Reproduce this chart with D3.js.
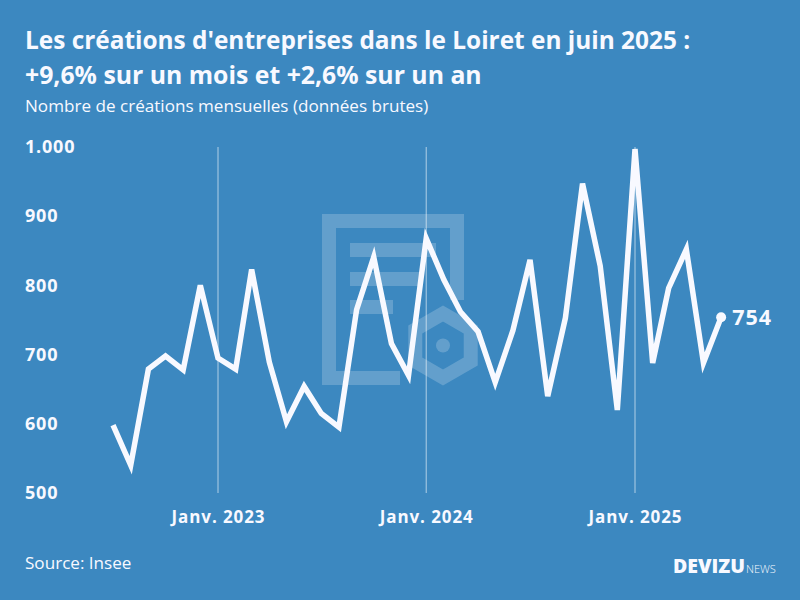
<!DOCTYPE html>
<html>
<head>
<meta charset="utf-8">
<script src="https://cdn.jsdelivr.net/npm/d3@7"></script>
<style>
  html, body { margin: 0; padding: 0; background: #3c88c0; }
  svg { display: block; }
  text { font-family: "Open Sans", sans-serif; fill: #f8f9ff; }
</style>
</head>
<body>
<div id="chart"></div>
<script>
// ----------- DATA -----------
const startMonth = "2022-07";
const values = [
  598, 540, 679, 698, 678, 800,
  695, 679, 823, 689, 603, 654, 615, 595, 765, 841, 716, 670,
  868, 808, 762, 733, 660, 735, 837, 640, 753, 947, 828, 620,
  997, 688, 796, 852, 688, 754
];
const yTicks = [500, 600, 700, 800, 900, 1000];
const yLabels = ["500", "600", "700", "800", "900", "1.000"];
const xTicks = ["2023-01", "2024-01", "2025-01"];
const xLabels = ["Janv. 2023", "Janv. 2024", "Janv. 2025"];
const titleLines = [
  "Les créations d'entreprises dans le Loiret en juin 2025 :",
  "+9,6% sur un mois et +2,6% sur un an"
];
const titleSizes = [24.4, 24.8];
const subtitle = "Nombre de créations mensuelles (données brutes)";
const source = "Source: Insee";

const width = 800;
const height = 600;
const parseMonth = d3.timeParse("%Y-%m");
const dates = values.map((d, i) => d3.timeMonth.offset(parseMonth(startMonth), i));

const svg = d3.select("#chart").append("svg")
  .attr("width", width)
  .attr("height", height);

svg.append("rect").attr("width", width).attr("height", height).attr("fill", "#3c88c0");

// ------- WATERMARK ---------
const mark = svg.append("g").attr("fill", "none").attr("stroke", "#fff").attr("stroke-opacity", 0.2);
mark.append("path").attr("stroke-width", 14).attr("d", "M457,300V221H329V378H400");
mark.append("path").attr("stroke-width", 14).attr("d", "M350,250H436M350,279H420M350,307H393");
const hex = d3.range(6).map(i => {
  const a = Math.PI / 3 * i - Math.PI / 2;
  return [443 + 32 * Math.cos(a), 345.5 + 32 * Math.sin(a)];
});
mark.append("path").attr("stroke-width", 14).attr("d", d3.line()(hex) + "Z");
svg.append("circle").attr("cx", 443).attr("cy", 345.5).attr("r", 7).attr("fill", "#fff").attr("fill-opacity", 0.2);

// ------- SCALES ---------
const x = d3.scaleTime()
  .domain([parseMonth("2023-01"), parseMonth("2025-01")])
  .range([218, 635]);
const y = d3.scaleLinear().domain([500, 1000]).range([493, 147]);

// vertical year lines
svg.append("g").selectAll("line").data(xTicks).join("line")
  .attr("x1", d => x(parseMonth(d)))
  .attr("x2", d => x(parseMonth(d)))
  .attr("y1", y(1000))
  .attr("y2", y(500))
  .attr("stroke", "#fff")
  .attr("stroke-opacity", 0.6)
  .attr("stroke-width", 1);

// ------- AXES ---------
const yAxis = svg.append("g")
  .attr("transform", "translate(25,0)")
  .call(d3.axisRight(y).tickValues(yTicks).tickSize(0).tickPadding(0)
    .tickFormat((d, i) => yLabels[i]));
yAxis.select(".domain").remove();
yAxis.selectAll("text").attr("font-size", 18).attr("font-weight", 700)
  .attr("letter-spacing", 0.8).style("font-family", '"Open Sans", sans-serif');

const xAxis = svg.append("g")
  .attr("transform", "translate(0,511)")
  .call(d3.axisBottom(x).tickValues(xTicks.map(parseMonth)).tickSize(0).tickPadding(0)
    .tickFormat((d, i) => xLabels[i]));
xAxis.select(".domain").remove();
xAxis.selectAll("text").attr("font-size", 17).attr("font-weight", 700)
  .attr("letter-spacing", 0.9).style("font-family", '"Open Sans", sans-serif');

// ------- LINE ---------
const line = d3.line().x((d, i) => x(dates[i])).y(d => y(d));
svg.append("path")
  .datum(values)
  .attr("fill", "none")
  .attr("stroke", "#f8f9ff")
  .attr("stroke-width", 5.5)
  .attr("stroke-linejoin", "miter")
  .attr("stroke-miterlimit", 4)
  .attr("d", line);

const lastIdx = values.length - 1;
svg.append("circle")
  .attr("cx", x(dates[lastIdx]))
  .attr("cy", y(values[lastIdx]))
  .attr("r", 5)
  .attr("fill", "#f8f9ff");
svg.append("text")
  .attr("x", x(dates[lastIdx]) + 11)
  .attr("y", y(values[lastIdx]) + 8)
  .attr("font-size", 21.5)
  .attr("font-weight", 700)
  .attr("letter-spacing", 1)
  .text(values[lastIdx]);

// ------- TEXT ---------
svg.selectAll(".title").data(titleLines).join("text")
  .attr("class", "title")
  .attr("x", 25)
  .attr("y", (d, i) => 49 + i * 35)
  .attr("font-size", (d, i) => titleSizes[i])
  .attr("font-weight", 700)
  .text(d => d);
svg.append("text").attr("x", 25).attr("y", 112).attr("font-size", 17.1).text(subtitle);
svg.append("text").attr("x", 25).attr("y", 569).attr("font-size", 17.1).text(source);

// logo
svg.append("text").attr("x", 673).attr("y", 573).attr("font-size", 19.5).attr("font-weight", 800).text("DEVIZU");
svg.append("text").attr("x", 746).attr("y", 573).attr("font-size", 11).attr("font-weight", 300).text("NEWS");
</script>
</body>
</html>
